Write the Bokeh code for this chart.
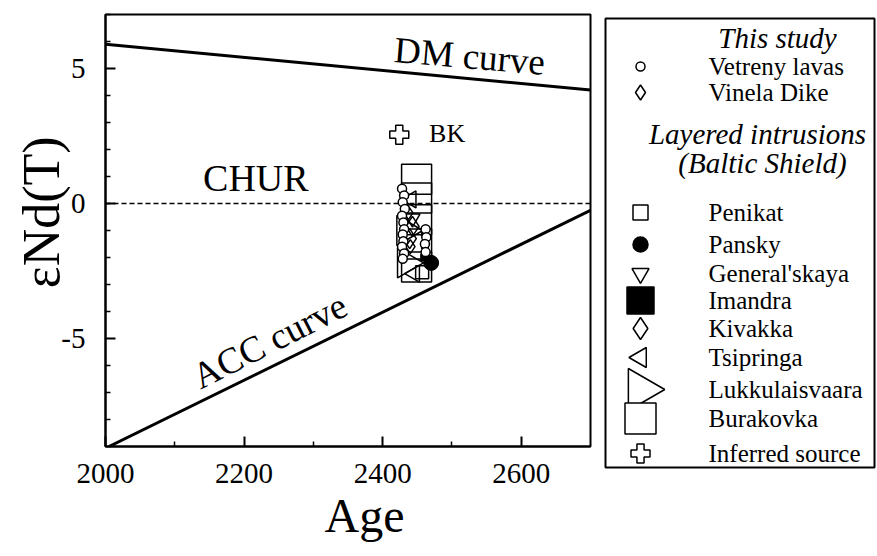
from math import pi

from bokeh.core.properties import value
from bokeh.embed import file_html
from bokeh.layouts import row
from bokeh.models import ColumnDataSource, FixedTicker, PrintfTickFormatter, Range1d, Title
from bokeh.plotting import figure
from bokeh.resources import INLINE

SERIF = "Liberation Serif"

# Reference evolution lines (age in Ma, epsilon Nd)
dm_age = [2000, 2700]
dm_eps = [5.9, 4.2]
acc_age = [2005, 2700]
acc_eps = [-9.0, -0.25]
chur_age = [2000, 2700]
chur_eps = [0.0, 0.0]

# This study
vetreny_age = [2428, 2431, 2429, 2432, 2428, 2430, 2431, 2429, 2430, 2428, 2431, 2429, 2462, 2463, 2461, 2462]
vetreny_eps = [0.55, 0.3, 0.05, -0.2, -0.45, -0.7, -0.95, -1.15, -1.4, -1.6, -1.85, -2.05, -0.95, -1.25, -1.5, -1.8]
vinela_age = [2437, 2440]
vinela_eps = [-0.35, -1.6]

# Layered intrusions (Baltic Shield)
penikat_age = [2457]
penikat_eps = [-2.55]
pansky_age = [2470]
pansky_eps = [-2.2]
generalskaya_age = [2443]
generalskaya_eps = [-0.55]
imandra_age = [2461, 2461, 2460]
imandra_eps = [-1.1, -1.55, -2.0]
kivakka_age = [2443, 2439]
kivakka_eps = [-0.85, -1.3]
tsipringa_age = [2441, 2446]
tsipringa_eps = [0.15, -2.6]
lukkulaisvaara_age = [2433, 2434]
lukkulaisvaara_eps = [-1.0, -2.2]
burakovka_age = [2449, 2449, 2449, 2449, 2449]
burakovka_eps = [0.9, 0.2, -0.6, -1.5, -2.35]

# Inferred source
bk_age = [2424]
bk_eps = [2.55]

x_ticks = [2000, 2200, 2400, 2600]
x_minor = [2100, 2300, 2500]
y_ticks = [-5, 0, 5]
y_minor = [-9, -8, -7, -6, -4, -3, -2, -1, 1, 2, 3, 4, 6, 7]

# ---------------------------------------------------------------- main plot
p = figure(width=600, height=556, x_range=Range1d(2000, 2700), y_range=Range1d(-9, 7),
           output_backend="svg", toolbar_location=None,
           min_border_left=105, min_border_right=10, min_border_top=14, min_border_bottom=110)
p.grid.visible = False
p.outline_line_color = "black"
p.outline_line_width = 2
p.background_fill_color = "white"
p.border_fill_color = "white"
p.align = "start"

for ax in (p.xaxis[0], p.yaxis[0]):
    ax.axis_line_width = 2
    ax.major_tick_line_width = 2
    ax.minor_tick_line_width = 1.5
    ax.major_tick_in = 10
    ax.major_tick_out = 0
    ax.minor_tick_in = 5
    ax.minor_tick_out = 0
    ax.major_label_text_font = SERIF
    ax.major_label_text_font_size = "29px"
    ax.major_label_text_color = "black"
    ax.formatter = PrintfTickFormatter(format="%d")

p.xaxis.ticker = FixedTicker(ticks=x_ticks, minor_ticks=x_minor)
p.yaxis.ticker = FixedTicker(ticks=y_ticks, minor_ticks=y_minor)
p.xaxis.major_label_standoff = 17
p.yaxis.major_label_standoff = 20

# y title; the leading spaces lift the visible text a little above the frame centre
p.yaxis.axis_label = "\u2002\u2009\u03b5Nd(T)"
p.yaxis.axis_label_text_font = SERIF
p.yaxis.axis_label_text_font_style = "normal"
p.yaxis.axis_label_text_font_size = "52px"
p.yaxis.axis_label_text_color = "black"
p.yaxis.axis_label_standoff = -12

p.add_layout(Title(text="Age", align="left", offset=219, vertical_align="top", standoff=6,
                   text_font=SERIF, text_font_size="48px", text_font_style="normal",
                   text_color="black"), "below")

# evolution lines
p.line(dm_age, dm_eps, line_color="black", line_width=3)
p.line(acc_age, acc_eps, line_color="black", line_width=3)
p.line(chur_age, chur_eps, line_color="black", line_width=1.5, line_dash="5 3")

# data clusters
lw = 1.5
p.scatter(burakovka_age, burakovka_eps, marker="square", size=30,
          fill_color=None, line_color="black", line_width=lw)
p.scatter(lukkulaisvaara_age, lukkulaisvaara_eps, marker="triangle", angle=-pi / 2, size=30,
          fill_color=None, line_color="black", line_width=lw)
p.scatter(tsipringa_age, tsipringa_eps, marker="triangle", angle=pi / 2, size=17,
          fill_color=None, line_color="black", line_width=lw)
p.scatter(generalskaya_age, generalskaya_eps, marker="inverted_triangle", size=15,
          fill_color=None, line_color="black", line_width=lw)
p.scatter(kivakka_age, kivakka_eps, marker="diamond", size=20,
          fill_color=None, line_color="black", line_width=lw)
p.scatter(vinela_age, vinela_eps, marker="diamond", size=14,
          fill_color=None, line_color="black", line_width=lw)
p.scatter(penikat_age, penikat_eps, marker="square", size=13,
          fill_color=None, line_color="black", line_width=lw)
p.scatter(imandra_age, imandra_eps, marker="square", size=7,
          fill_color="black", line_color="black")
p.scatter(vetreny_age, vetreny_eps, marker="circle", size=9,
          fill_color="white", line_color="black", line_width=lw)
p.scatter(pansky_age, pansky_eps, marker="circle", size=15,
          fill_color="black", line_color="black")
p.scatter(bk_age, bk_eps, marker="plus", size=19,
          fill_color="white", line_color="black", line_width=lw)

# line and point labels (anchored at the middle of the capitals)
curve_labels = ColumnDataSource(dict(
    x=[2417, 2129], y=[5.7, -6.49], text=["DM curve", "ACC curve"], angle=[-0.085, 0.47]))
p.text(x="x", y="y", text="text", angle="angle", source=curve_labels,
       text_font=value(SERIF), text_font_size="37px", text_color="black",
       text_align="left", text_baseline="middle")
p.text(x=[2217], y=[0.94], text=["CHUR"], text_font=value(SERIF), text_font_size="38px",
       text_color="black", text_align="center", text_baseline="middle")
p.text(x=[2467], y=[2.61], text=["BK"], text_font=value(SERIF), text_font_size="26px",
       text_color="black", text_align="left", text_baseline="middle")

# ---------------------------------------------------------------- key panel
key_labels = ["Vetreny lavas", "Vinela Dike", "Penikat", "Pansky", "General'skaya", "Imandra",
              "Kivakka", "Tsipringa", "Lukkulaisvaara", "Burakovka", "Inferred source"]
key_rows = [66, 92, 212, 244, 273, 300, 328, 357, 389, 418, 453]
key_markers = ["circle", "diamond", "square", "circle", "inverted_triangle", "square",
               "diamond", "triangle", "triangle", "square", "plus"]
key_sizes = [9, 15, 15, 15, 17, 27, 22, 20, 42, 31, 19]
key_angles = [0, 0, 0, 0, 0, 0, 0, pi / 2, -pi / 2, 0, 0]
key_fills = ["white", "white", "white", "black", "white", "black",
             "white", "white", "white", "white", "white"]

# the key canvas uses pixel-like coordinates, y growing downwards from its top edge
leg = figure(width=277, height=556, frame_width=277, frame_height=542,
             x_range=Range1d(0, 277), y_range=Range1d(556, 14),
             x_axis_location=None, y_axis_location=None,
             output_backend="svg", toolbar_location=None,
             min_border_left=0, min_border_right=0, min_border_top=14, min_border_bottom=0)
leg.grid.visible = False
leg.outline_line_color = None
leg.background_fill_color = "white"
leg.border_fill_color = "white"
leg.align = "start"

leg.quad(left=[5], right=[274], top=[18], bottom=[467],
         fill_color=None, line_color="black", line_width=2)

key_src = ColumnDataSource(dict(
    x=[40] * len(key_labels), tx=[108] * len(key_labels), y=key_rows,
    label=key_labels, marker=key_markers, size=key_sizes, angle=key_angles, fill=key_fills))
leg.scatter(x="x", y="y", marker="marker", size="size", angle="angle",
            fill_color="fill", line_color="black", line_width=1.5, source=key_src)
leg.text(x="tx", y="y", text="label", source=key_src, text_font=value(SERIF),
         text_font_size="25px", text_color="black", text_align="left", text_baseline="middle")

header_src = ColumnDataSource(dict(
    x=[177, 157, 162], y=[37, 133, 162],
    label=["This study", "Layered intrusions", "(Baltic Shield)"]))
leg.text(x="x", y="y", text="label", source=header_src, text_font=value(SERIF),
         text_font_style="italic", text_font_size="29px", text_color="black",
         text_align="center", text_baseline="middle")

layout = row(p, leg)
open("out.html", "w").write(file_html(layout, INLINE))
